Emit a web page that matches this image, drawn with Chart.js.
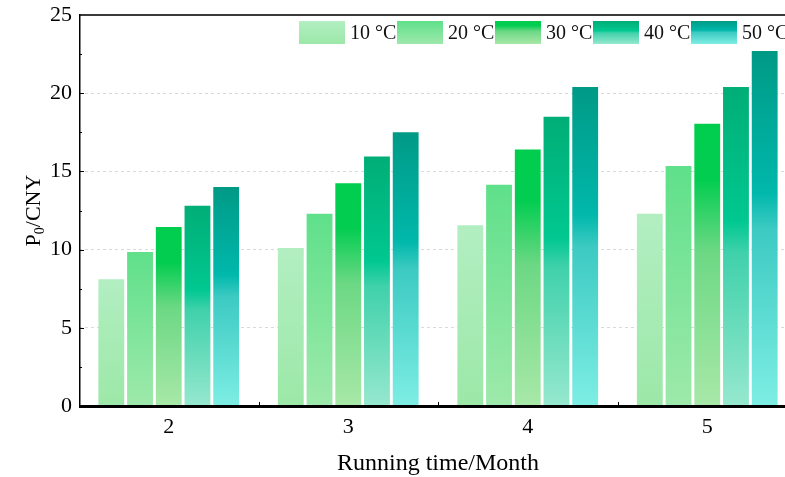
<!DOCTYPE html>
<html>
<head>
<meta charset="utf-8">
<script src="https://cdn.jsdelivr.net/npm/chart.js@4.4.1/dist/chart.umd.min.js"></script>
<style>
  html, body { margin: 0; padding: 0; background: #fff; overflow: hidden; width: 785px; height: 477px; }
  #wrap { width: 798px; height: 477px; }
</style>
</head>
<body>
<div id="wrap"><canvas id="c" width="798" height="477"></canvas></div>
<script>
// Running time (months) on the x axis
const months = ['2', '3', '4', '5'];
// Operating temperatures, one series each
const temps = ['10 °C', '20 °C', '30 °C', '40 °C', '50 °C'];
// P0 cost (CNY) per temperature, one value per month
const cost10 = [8.1, 10.1, 11.55, 12.3];
const cost20 = [9.85, 12.3, 14.15, 15.35];
const cost30 = [11.45, 14.25, 16.4, 18.05];
const cost40 = [12.8, 15.95, 18.5, 20.4];
const cost50 = [14.0, 17.5, 20.4, 22.7];
const yTickValues = [0, 5, 10, 15, 20, 25];

const SERIF = "'Liberation Serif', 'Times New Roman', serif";

// Vertical gradient stops (top -> bottom) for each series
const palettes = [
  [[0, '#b2eec1'], [1, '#9ce8a8']],
  [[0, '#5fe08a'], [1, '#9ee9ab']],
  [[0, '#00cd4e'], [0.2, '#03cd51'], [0.45, '#6cd884'], [1, '#a8e8a8']],
  [[0, '#00ae76'], [0.42, '#00c890'], [0.52, '#40d1ab'], [1, '#96e8ce']],
  [[0, '#009a86'], [0.4, '#00b8ab'], [0.5, '#3ccac2'], [1, '#7eeee4']]
];
const seriesValues = [cost10, cost20, cost30, cost40, cost50];

function addStops(g, stops) {
  stops.forEach(([o, c]) => g.addColorStop(o, c));
  return g;
}

// Each bar gets its own gradient running from its top down to the zero line
function barFill(i) {
  return (ctx) => {
    const chart = ctx.chart;
    const y = chart.scales && chart.scales.y;
    const stops = palettes[i];
    if (!chart.chartArea || !y || ctx.type !== 'data') return stops[stops.length - 1][1];
    const v = ctx.parsed ? ctx.parsed.y : ctx.raw;
    const top = y.getPixelForValue(v);
    const base = y.getPixelForValue(0);
    if (!isFinite(top) || !isFinite(base) || base - top < 1) return stops[0][1];
    return addStops(chart.ctx.createLinearGradient(0, top, 0, base), stops);
  };
}

const datasets = temps.map((t, i) => ({
  label: t,
  data: seriesValues[i],
  backgroundColor: barFill(i),
  borderWidth: 0,
  categoryPercentage: 0.8,
  barPercentage: 0.9
}));

// Frame, inward ticks, y title with subscript and the gradient legend
const decorations = {
  id: 'decorations',
  afterDraw(chart) {
    const { ctx, chartArea: a, scales: { x, y } } = chart;
    ctx.save();

    // inward y ticks: major every 5, minor halfway
    ctx.strokeStyle = '#000';
    ctx.lineWidth = 1;
    for (let v = 0; v <= 25; v += 2.5) {
      const py = Math.round(y.getPixelForValue(v)) + 0.5;
      const len = v % 5 === 0 ? 5 : 3;
      ctx.beginPath();
      ctx.moveTo(a.left, py);
      ctx.lineTo(a.left + len, py);
      ctx.stroke();
    }
    // x ticks at category boundaries
    for (let i = 0; i < months.length - 1; i++) {
      const px = Math.round((x.getPixelForValue(i) + x.getPixelForValue(i + 1)) / 2) + 0.5;
      ctx.beginPath();
      ctx.moveTo(px, a.bottom);
      ctx.lineTo(px, a.bottom - 4);
      ctx.stroke();
    }

    // top border
    ctx.strokeStyle = '#3a3a3a';
    ctx.lineWidth = 2;
    ctx.beginPath();
    ctx.moveTo(a.left, a.top);
    ctx.lineTo(a.right + 5, a.top);
    ctx.stroke();
    // left axis
    ctx.strokeStyle = '#000';
    ctx.lineWidth = 1.5;
    ctx.beginPath();
    ctx.moveTo(a.left + 0.75, a.top - 1);
    ctx.lineTo(a.left + 0.75, a.bottom);
    ctx.stroke();
    // bottom axis
    ctx.lineWidth = 3;
    ctx.beginPath();
    ctx.moveTo(a.left, a.bottom + 0.5);
    ctx.lineTo(a.right + 5, a.bottom + 0.5);
    ctx.stroke();

    // y axis title: P with subscript 0, then /CNY
    const cy = (a.top + a.bottom) / 2;
    const big = '22px ' + SERIF, small = '14px ' + SERIF;
    ctx.font = big;
    const wP = ctx.measureText('P').width;
    const wRest = ctx.measureText('/CNY').width;
    ctx.font = small;
    const w0 = ctx.measureText('0').width;
    const total = wP + w0 + wRest;
    ctx.translate(40, cy);
    ctx.rotate(-Math.PI / 2);
    ctx.fillStyle = '#000';
    ctx.textBaseline = 'alphabetic';
    ctx.textAlign = 'left';
    let sx = -total / 2;
    ctx.font = big;
    ctx.fillText('P', sx, 0);
    sx += wP;
    ctx.font = small;
    ctx.fillText('0', sx, 4);
    sx += w0;
    ctx.font = big;
    ctx.fillText('/CNY', sx, 0);
    ctx.restore();

    // legend row inside the plot, top right
    ctx.save();
    const boxW = 46, boxH = 23, step = 98, lx = 299, ly = 21;
    ctx.font = '20px ' + SERIF;
    ctx.textBaseline = 'middle';
    ctx.textAlign = 'left';
    chart.data.datasets.forEach((ds, i) => {
      const bx = lx + i * step;
      const g = addStops(ctx.createLinearGradient(0, ly, 0, ly + boxH), palettes[i]);
      ctx.fillStyle = g;
      ctx.fillRect(bx, ly, boxW, boxH);
      ctx.fillStyle = '#111';
      ctx.fillText(ds.label, bx + boxW + 5, ly + boxH / 2 + 1);
    });
    ctx.restore();
  }
};

new Chart(document.getElementById('c'), {
  type: 'bar',
  data: { labels: months, datasets },
  options: {
    responsive: false,
    animation: false,
    devicePixelRatio: 1,
    layout: { padding: { left: 0, right: 1, top: 15, bottom: 0 } },
    plugins: { legend: { display: false }, tooltip: { enabled: false } },
    scales: {
      x: {
        type: 'category',
        offset: true,
        grid: { display: false, drawTicks: false },
        border: { display: false },
        ticks: { color: '#000', font: { family: SERIF, size: 22, lineHeight: 1.1 }, padding: 9 },
        title: {
          display: true,
          text: 'Running time/Month',
          color: '#000',
          font: { family: SERIF, size: 24, lineHeight: 1.1 },
          padding: { top: 0, bottom: 0 }
        },
        afterFit(scale) { scale.height = 71; scale.paddingLeft = 0; scale.paddingRight = 0; }
      },
      y: {
        min: 0,
        max: 25,
        afterBuildTicks(scale) { scale.ticks = yTickValues.map(v => ({ value: v })); },
        grid: {
          drawTicks: false,
          color: (c) => (c.tick && (c.tick.value === 0 || c.tick.value === 25)) ? 'rgba(0,0,0,0)' : '#d9d9d9',
          lineWidth: 1
        },
        border: { display: false, dash: [3, 3] },
        ticks: { color: '#000', font: { family: SERIF, size: 22 }, padding: 7 },
        afterFit(scale) { scale.width = 79; scale.paddingTop = 0; scale.paddingBottom = 0; }
      }
    }
  },
  plugins: [decorations]
});
</script>
</body>
</html>
